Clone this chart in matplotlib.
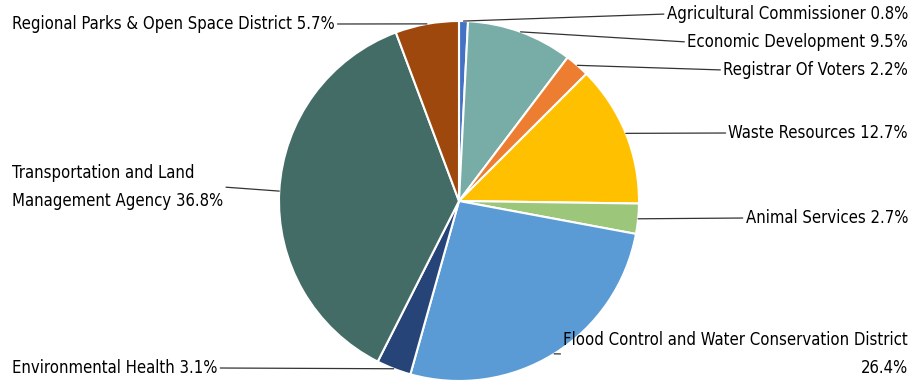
import matplotlib
matplotlib.use("Agg")
import matplotlib.pyplot as plt
import numpy as np

# slice data, clockwise from 12 o'clock
categories = [
    "Agricultural Commissioner",
    "Economic Development",
    "Registrar Of Voters",
    "Waste Resources",
    "Animal Services",
    "Flood Control and Water Conservation District",
    "Environmental Health",
    "Transportation and Land\nManagement Agency",
    "Regional Parks & Open Space District",
]
shares = [0.8, 9.5, 2.2, 12.7, 2.7, 26.4, 3.1, 36.8, 5.7]
colors = ["#4472C4", "#77ACA7", "#ED7D31", "#FFC000", "#9CC67A",
          "#5B9BD5", "#264478", "#436C66", "#9E480E"]
label_texts = [
    "Agricultural Commissioner 0.8%",
    "Economic Development 9.5%",
    "Registrar Of Voters 2.2%",
    "Waste Resources 12.7%",
    "Animal Services 2.7%",
    "Flood Control and Water Conservation District\n26.4%",
    "Environmental Health 3.1%",
    "Transportation and Land\nManagement Agency 36.8%",
    "Regional Parks & Open Space District 5.7%",
]

# label anchor positions (pixel coords, y from top) and alignment
label_pos = [(908, 14), (908, 42), (908, 70), (908, 133), (908, 218),
             (908, 354), (12, 368), (12, 187), (12, 24)]
label_ha = ["right"] * 6 + ["left"] * 3

W, H = 913, 383
plt.rcParams["font.family"] = ["DejaVu Sans"]

fig = plt.figure(figsize=(W / 100, H / 100), dpi=100)
ax = fig.add_axes([0, 0, 1, 1])
ax.set_xlim(0, W)
ax.set_ylim(0, H)
ax.axis("off")

cx, cy, r = 459, H - 201, 180
wedges, _ = ax.pie(shares, colors=colors, startangle=90, counterclock=False,
                   center=(cx, cy), radius=r, normalize=True,
                   wedgeprops=dict(edgecolor="white", linewidth=1.5))
ax.set_xlim(0, W)
ax.set_ylim(0, H)
ax.set_aspect("equal")

for w, txt, (tx, ty), ha in zip(wedges, label_texts, label_pos, label_ha):
    ang = np.deg2rad((w.theta1 + w.theta2) / 2)
    px = cx + r * np.cos(ang)
    py = cy + r * np.sin(ang)
    relpos = (0, 0.5) if ha == "right" else (1, 0.5)
    ax.annotate(txt, xy=(px, py), xytext=(tx, H - ty), ha=ha, va="center",
                fontsize=12, fontstretch="condensed", color="black",
                linespacing=1.65, multialignment=ha,
                arrowprops=dict(arrowstyle="-", color="#333333", lw=0.9,
                                shrinkA=0, shrinkB=0, relpos=relpos))

fig.savefig("out.png", dpi=100)
